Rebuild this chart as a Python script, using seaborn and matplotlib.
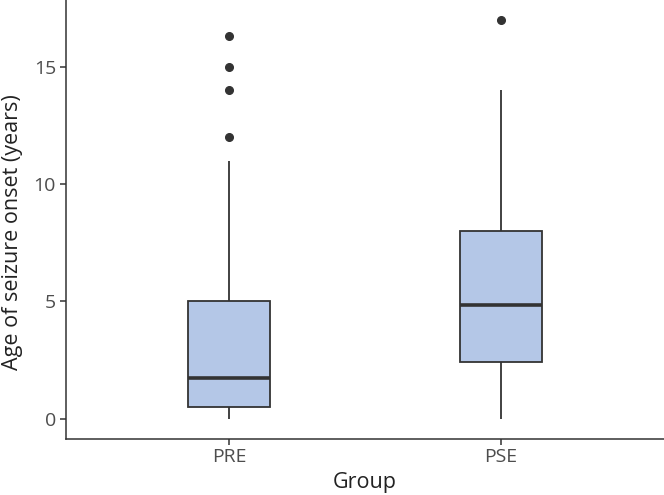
import matplotlib
matplotlib.use("Agg")
import matplotlib.pyplot as plt
import seaborn as sns
import pandas as pd

groups = ["PRE", "PSE"]
pre_ages = [0, 0.1, 0.2, 0.3, 0.4, 0.5, 0.5, 0.8, 1.0, 1.2, 1.5, 1.6, 1.75,
            2, 2.5, 3, 3.5, 4, 5, 6, 11, 12, 14, 15, 16.3]
pse_ages = [0, 0.5, 1, 1.5, 2, 2.2, 2.4, 3, 3.5, 4, 4.2, 4.5, 4.85,
            5, 5.5, 6, 7, 7.5, 8, 9, 10, 11, 12, 14, 17]
y_ticks = [0, 5, 10, 15]

df = pd.DataFrame({
    "Group": [groups[0]] * len(pre_ages) + [groups[1]] * len(pse_ages),
    "Age": pre_ages + pse_ages,
})

sns.set_style("white")
plt.rcParams["font.family"] = ["Open Sans", "DejaVu Sans"]

fig = plt.figure(figsize=(6.64, 4.95), dpi=100)
ax = fig.add_axes([0.099, 0.1137, 0.901, 0.8863])

dark = "#333333"
sns.boxplot(data=df, x="Group", y="Age", order=groups, ax=ax, width=0.3,
            color="#b4c7e7", saturation=1, linecolor=dark, linewidth=1.3,
            showcaps=False,
            flierprops=dict(marker="o", markersize=5.5, markerfacecolor=dark,
                            markeredgecolor=dark),
            medianprops=dict(linewidth=2.6, color=dark))

ax.set_xlim(-0.6, 1.6)
ax.set_ylim(-0.85, 17.85)
ax.set_yticks(y_ticks)
ax.set_yticklabels([str(t) for t in y_ticks])

for s in ["top", "right"]:
    ax.spines[s].set_visible(False)
for s in ["left", "bottom"]:
    ax.spines[s].set_color(dark)
    ax.spines[s].set_linewidth(1.1)

ax.tick_params(axis="both", which="both", direction="out", length=4.5, width=1.1,
               color=dark, labelcolor="#4d4d4d", labelsize=14, pad=2.5,
               left=True, bottom=True)
ax.set_xlabel("Group", fontsize=15.5, color="#222222", labelpad=4)
ax.set_ylabel("Age of seizure onset (years)", fontsize=15.5, color="#222222")
ax.yaxis.set_label_coords(-0.071, 0.47)

fig.savefig("out.png", dpi=100)
